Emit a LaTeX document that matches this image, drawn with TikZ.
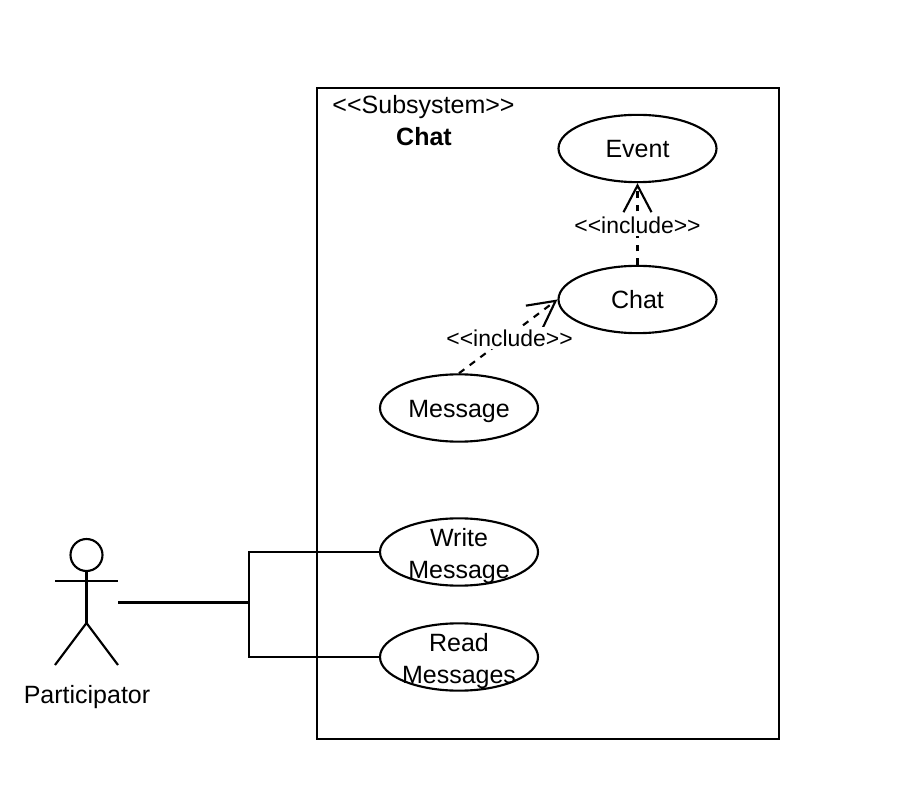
\documentclass[tikz,border=0pt]{standalone}
\usepackage{fontspec}
\setmainfont{Liberation Sans}
\usetikzlibrary{shapes.geometric,arrows.meta}
\tikzset{
  x=0.75pt,y=-0.75pt,
  every path/.style={line width=1.6pt,black},
  usecase/.style={draw,ellipse,minimum width=118.5pt,minimum height=50.5pt,inner sep=0pt},
  casetext/.style={font=\fontsize{18.75}{24}\selectfont,align=center,inner sep=0pt},
  plaintext/.style={font=\fontsize{18.75}{24}\selectfont,inner sep=0pt},
  inclabel/.style={font=\fontsize{17.2}{20}\selectfont,fill=white,inner xsep=0.5pt,inner ysep=2pt},
  includeline/.style={dash pattern=on 5pt off 5pt,-{Straight Barb[length=20pt,width=21pt,line width=1.6pt]}},
  assoc/.style={line join=miter}
}
\begin{document}
\begin{tikzpicture}
\useasboundingbox (0,0) rectangle (899,787);
\fill[white] (0,0) rectangle (899,787);
\node[draw,rectangle,minimum width=346.5pt,minimum height=488.25pt,inner sep=0pt] (system) at (548,413.5) {};
\node[plaintext] (stereo) at (423.5,107) {<{}<Subsystem>{}>};
\node[plaintext,font=\fontsize{18.75}{24}\selectfont\bfseries] (systitle) at (424,137) {Chat};
\node[usecase] (event) at (637.5,148.5) {};
\node[casetext] (eventt) at (637.5,149) {Event};
\node[usecase] (chat) at (637.5,299.5) {};
\node[casetext] (chatt) at (637.5,300) {Chat};
\node[usecase] (message) at (459,408) {};
\node[casetext] (messaget) at (459,411) {Message};
\node[usecase] (write) at (459,552) {};
\node[casetext] (writet) at (459,556.5) {Write\\Message};
\node[usecase] (read) at (459,657) {};
\node[casetext] (readt) at (459,661.5) {Read\\Messages};
\draw[includeline] (chat.north) -- node[inclabel,midway,yshift=-0.75pt] {<{}<include>{}>} (event.south);
\draw[includeline] (message.north) -- node[inclabel,midway,xshift=1pt,yshift=-1.5pt] {<{}<include>{}>} (chat.west);
% actor
\node[draw,circle,minimum size=24pt,inner sep=0pt] (head) at (86.5,555) {};
\coordinate (armL) at (55,581);
\coordinate (armR) at (118,581);
\coordinate (hip) at (86.5,623);
\coordinate (legL) at (55,665);
\coordinate (legR) at (118,665);
\draw (head.south) -- (hip);
\draw (armL) -- (armR);
\draw (legL) -- (hip) -- (legR);
\node[plaintext] (actorname) at (87,697) {Participator};
\coordinate (actorport) at (118,602.5);
\coordinate (junction) at (249,602.5);
\draw[assoc] (actorport) -- (junction);
\draw[assoc] (write.west) -| (junction) |- (read.west);
\end{tikzpicture}
\end{document}
